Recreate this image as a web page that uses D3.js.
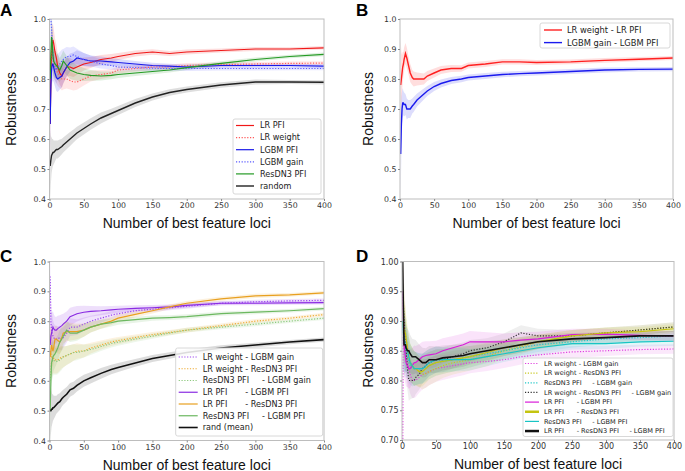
<!DOCTYPE html>
<html>
<head>
<meta charset="utf-8">
<script src="https://cdn.jsdelivr.net/npm/d3@7"></script>
<style>
  body { margin: 0; background: #fff; }
  svg { display: block; }
  text { font-family: "DejaVu Sans", sans-serif; }
</style>
</head>
<body>
<svg id="chart" width="685" height="471"></svg>
<script>
// ---------- DATA ----------
const xs = [1,2,3,4,5,6,8,10,12,15,18,20,25,30,35,40,50,60,75,90,100,125,150,175,200,250,300,350,400];
const xTicks = [0,50,100,150,200,250,300,350,400];
const yTicksABC = [0.4,0.5,0.6,0.7,0.8,0.9,1.0];
const yTicksD = [0.70,0.75,0.80,0.85,0.90,0.95,1.00];

// Panel A
const namesA = ["LR PFI","LR weight","LGBM PFI","LGBM gain","ResDN3 PFI","random"];
const A_lrPfi   = [.65,.80,.88,.92,.93,.92,.89,.87,.84,.82,.81,.82,.84,.84,.835,.84,.85,.855,.865,.87,.875,.885,.89,.885,.89,.895,.90,.90,.904];
const A_lrW     = [.80,.86,.90,.89,.87,.85,.84,.83,.82,.81,.80,.80,.80,.795,.79,.79,.80,.81,.815,.82,.83,.835,.84,.84,.845,.848,.85,.852,.853];
const A_lgbmPfi = [.65,.78,.83,.85,.85,.84,.82,.805,.80,.805,.81,.82,.84,.855,.86,.87,.865,.86,.86,.857,.855,.85,.845,.843,.84,.845,.845,.845,.843];
const A_lgbmG   = [1.0,1.0,.97,.92,.88,.86,.84,.83,.84,.85,.86,.865,.875,.875,.88,.875,.865,.86,.85,.845,.84,.838,.836,.835,.835,.835,.835,.835,.835];
const A_res     = [.80,.88,.94,.92,.88,.86,.85,.845,.84,.83,.845,.86,.845,.83,.825,.82,.815,.812,.81,.812,.815,.82,.825,.83,.838,.852,.865,.875,.882];
const A_rand    = [.51,.53,.545,.55,.555,.555,.56,.565,.565,.57,.575,.58,.59,.60,.61,.62,.635,.65,.67,.685,.695,.72,.74,.755,.765,.78,.79,.79,.789];
const bandModel = [.10,.08,.07,.06,.055,.05,.045,.045,.043,.04,.038,.035,.032,.03,.028,.026,.022,.018,.015,.013,.012,.01,.009,.008,.008,.007,.007,.006,.006];
const bandRand  = [.12,.08,.06,.05,.045,.04,.035,.03,.03,.028,.026,.025,.024,.023,.022,.021,.02,.019,.018,.016,.015,.013,.012,.011,.01,.009,.008,.007,.007];

// Panel B
const namesB = ["LR weight - LR PFI","LGBM gain - LGBM PFI"];
const B_lr   = [.78,.80,.82,.84,.85,.865,.885,.87,.85,.82,.805,.80,.80,.80,.80,.81,.82,.83,.835,.835,.845,.85,.857,.857,.855,.857,.862,.866,.87];
const B_lgbm = [.55,.65,.70,.72,.72,.715,.715,.70,.70,.70,.71,.715,.73,.74,.75,.76,.775,.785,.795,.80,.805,.81,.815,.818,.82,.825,.83,.832,.833];
const bandB  = [.15,.09,.06,.05,.04,.04,.035,.035,.03,.03,.025,.025,.022,.02,.018,.017,.015,.013,.012,.011,.01,.01,.009,.009,.008,.008,.008,.007,.007];

// Panel C
const namesC = ["LR weight - LGBM gain","LR weight - ResDN3 PFI","ResDN3 PFI     - LGBM gain","LR PFI       - LGBM PFI","LR PFI       - ResDN3 PFI","ResDN3 PFI     - LGBM PFI","rand (mean)"];
const C_wG   = [.95,.80,.77,.76,.75,.745,.74,.74,.74,.745,.74,.745,.76,.78,.78,.78,.79,.80,.81,.82,.825,.835,.84,.845,.85,.86,.865,.868,.87];
const C_wR   = [.70,.69,.68,.68,.68,.675,.67,.67,.67,.675,.68,.68,.685,.69,.695,.70,.70,.71,.72,.73,.735,.745,.755,.762,.77,.785,.80,.81,.822];
const C_rG   = [.60,.64,.66,.665,.67,.67,.665,.665,.665,.67,.675,.68,.685,.69,.695,.695,.70,.705,.715,.725,.73,.74,.75,.76,.77,.78,.79,.80,.81];
const C_pL   = [.72,.75,.76,.77,.78,.775,.77,.77,.775,.78,.785,.79,.80,.815,.82,.825,.83,.833,.835,.838,.84,.843,.845,.848,.853,.86,.86,.861,.862];
const C_pR   = [.68,.70,.72,.71,.70,.71,.74,.74,.735,.73,.745,.76,.765,.765,.765,.765,.77,.78,.79,.80,.81,.823,.835,.848,.86,.875,.885,.888,.895];
const C_rL   = [.50,.60,.66,.67,.68,.685,.69,.70,.71,.73,.74,.75,.77,.76,.76,.76,.77,.78,.79,.795,.80,.805,.81,.812,.815,.825,.83,.835,.842];
const C_rand = [.50,.50,.505,.505,.51,.51,.515,.52,.525,.53,.54,.545,.555,.57,.575,.585,.60,.61,.625,.638,.645,.66,.675,.685,.695,.71,.72,.73,.738];

// Panel D
const namesD = ["LR weight - LGBM gain","LR weight - ResDN3 PFI","ResDN3 PFI     - LGBM gain","LR weight - ResDN3 PFI     - LGBM gain","LR PFI      - LGBM PFI","LR PFI      - ResDN3 PFI","ResDN3 PFI     - LGBM PFI","LR PFI      - ResDN3 PFI     - LGBM PFI"];
const D_wG  = [.65,.93,.89,.87,.86,.85,.835,.82,.81,.80,.80,.80,.805,.81,.812,.815,.82,.822,.825,.828,.83,.832,.835,.84,.843,.848,.85,.852,.853];
const D_wR  = [.95,.93,.91,.895,.88,.87,.855,.84,.83,.825,.82,.82,.815,.81,.812,.815,.82,.825,.83,.833,.835,.84,.85,.857,.865,.875,.88,.885,.89];
const D_rG  = [.90,.88,.87,.86,.85,.845,.84,.83,.825,.82,.82,.82,.82,.82,.822,.825,.83,.832,.835,.838,.84,.845,.85,.855,.86,.865,.87,.872,.875];
const D_wRG = [.95,.92,.90,.88,.86,.85,.82,.80,.80,.80,.80,.805,.81,.82,.825,.83,.835,.835,.84,.845,.85,.855,.865,.88,.875,.875,.88,.885,.89];
const D_pL  = [.95,.90,.86,.85,.84,.83,.825,.82,.82,.825,.83,.83,.835,.84,.842,.843,.845,.85,.855,.86,.865,.865,.865,.868,.87,.877,.878,.876,.875];
const D_pR  = [.90,.89,.885,.88,.88,.87,.855,.84,.83,.825,.82,.82,.815,.815,.82,.825,.83,.832,.835,.838,.84,.847,.855,.86,.865,.875,.88,.882,.887];
const D_rL  = [.90,.88,.87,.865,.86,.855,.85,.84,.83,.825,.82,.82,.82,.82,.825,.83,.835,.835,.835,.835,.835,.84,.845,.85,.855,.862,.862,.865,.866];
const D_all = [1.0,.92,.86,.86,.86,.855,.85,.85,.845,.84,.84,.84,.835,.83,.83,.835,.835,.838,.84,.842,.845,.85,.855,.86,.865,.87,.872,.875,.875];
const bandD = [.08,.065,.055,.05,.045,.04,.036,.034,.032,.03,.029,.028,.026,.025,.024,.023,.022,.021,.02,.019,.018,.016,.014,.013,.012,.01,.009,.008,.008];

// ---------- DRAW ----------
const svg = d3.select("#chart");
const DOT = "1.2,1.6";

function drawPanel(cfg) {
  const g = svg.append("g");
  const x = d3.scaleLinear().domain([0, 400]).range([cfg.left, cfg.right]);
  const y = d3.scaleLinear().domain(cfg.yDomain).range([cfg.bottom, cfg.top]);
  const clipId = "clip" + cfg.letter;
  svg.append("clipPath").attr("id", clipId).append("rect")
    .attr("x", cfg.left).attr("y", cfg.top)
    .attr("width", cfg.right - cfg.left).attr("height", cfg.bottom - cfg.top);
  const plot = g.append("g").attr("clip-path", `url(#${clipId})`);

  const area = d3.area().x((d, i) => x(xs[i])).y0(d => y(d[0] - d[1])).y1(d => y(d[0] + d[1]));
  const line = d3.line().x((d, i) => x(xs[i])).y(d => y(d));

  cfg.series.forEach(s => {
    plot.append("path").datum(s.values.map((v, i) => [v, s.band[i]]))
      .attr("d", area).attr("fill", s.color).attr("fill-opacity", s.bandOpacity || 0.15);
  });
  cfg.series.forEach(s => {
    plot.append("path").datum(s.values).attr("d", line)
      .attr("fill", "none").attr("stroke", s.color).attr("stroke-width", s.width || 1.2)
      .attr("stroke-opacity", s.opacity || 1)
      .attr("stroke-dasharray", s.dash ? DOT : null);
  });

  // frame
  g.append("rect").attr("x", cfg.left).attr("y", cfg.top)
    .attr("width", cfg.right - cfg.left).attr("height", cfg.bottom - cfg.top)
    .attr("fill", "none").attr("stroke", "#bdbdbd").attr("stroke-width", 1);

  const xAxis = g.append("g").attr("transform", `translate(0,${cfg.bottom})`)
    .call(d3.axisBottom(x).tickValues(xTicks).tickSize(2).tickPadding(1.5).tickFormat(d3.format("d")));
  const yAxis = g.append("g").attr("transform", `translate(${cfg.left},0)`)
    .call(d3.axisLeft(y).tickValues(cfg.yTicks).tickSize(2).tickPadding(1.5).tickFormat(d3.format(cfg.yFmt)));
  [xAxis, yAxis].forEach(a => {
    a.select(".domain").remove();
    a.selectAll("line").attr("stroke", "#888");
    a.selectAll("text").attr("fill", "#333").style("font-size", cfg.tickFont + "px")
      .style("font-family", "'DejaVu Sans', sans-serif");
  });

  // axis titles
  g.append("text").attr("x", (cfg.left + cfg.right) / 2).attr("y", cfg.bottom + 29)
    .attr("text-anchor", "middle").style("font-family", "'Liberation Sans', Arial, sans-serif")
    .style("font-size", "14px").attr("fill", "#111").text("Number of best feature loci");
  g.append("text").attr("transform", `translate(${cfg.ylabX},${(cfg.top + cfg.bottom) / 2}) rotate(-90)`)
    .attr("text-anchor", "middle").style("font-family", "'Liberation Sans', Arial, sans-serif")
    .style("font-size", "14px").attr("fill", "#111").text("Robustness");
  // panel letter
  g.append("text").attr("x", cfg.letterX).attr("y", cfg.letterY)
    .style("font-family", "'Liberation Sans', Arial, sans-serif").style("font-weight", "bold")
    .style("font-size", "17px").attr("fill", "#000").text(cfg.letter);

  // legend
  const L = cfg.legend;
  const lg = g.append("g");
  lg.append("rect").attr("x", L.x).attr("y", L.y).attr("width", L.w).attr("height", L.h)
    .attr("rx", 2).attr("fill", "#fff").attr("fill-opacity", 0.85).attr("stroke", "#d8d8d8");
  cfg.series.forEach((s, i) => {
    const ry = L.y + L.first + i * L.row;
    lg.append("line").attr("x1", L.x + L.pad).attr("x2", L.x + L.pad + L.sample)
      .attr("y1", ry).attr("y2", ry).attr("stroke", s.color)
      .attr("stroke-width", s.legendWidth || s.width || 1.2).attr("stroke-opacity", s.opacity || 1)
      .attr("stroke-dasharray", s.dash ? DOT : null);
    lg.append("text").attr("x", L.x + L.pad + L.sample + L.gap).attr("y", ry)
      .attr("dy", "0.35em").style("font-size", L.font + "px").style("white-space", "pre")
      .attr("fill", "#222").text(s.name);
  });
}

drawPanel({
  letter: "A", letterX: 0, letterY: 16,
  left: 49.5, right: 324, top: 19, bottom: 199, ylabX: 16,
  yDomain: [0.4, 1.0], yTicks: yTicksABC, yFmt: ".1f", tickFont: 7.8,
  series: [
    {name: namesA[0], values: A_lrPfi, band: bandModel, color: "#f01818"},
    {name: namesA[1], values: A_lrW, band: bandModel, color: "#ff5a5a", dash: true},
    {name: namesA[2], values: A_lgbmPfi, band: bandModel, color: "#1818e8"},
    {name: namesA[3], values: A_lgbmG, band: bandModel, color: "#5a5aff", dash: true},
    {name: namesA[4], values: A_res, band: bandModel, color: "#259a25"},
    {name: namesA[5], values: A_rand, band: bandRand, color: "#222", width: 1.4}
  ],
  legend: {x: 233, y: 119, w: 88, h: 75, first: 6.5, row: 12.1, pad: 3, sample: 18, gap: 6, font: 8.1}
});

drawPanel({
  letter: "B", letterX: 356, letterY: 16,
  left: 400, right: 673, top: 19, bottom: 199, ylabX: 373,
  yDomain: [0.4, 1.0], yTicks: yTicksABC, yFmt: ".1f", tickFont: 7.8,
  series: [
    {name: namesB[0], values: B_lr, band: bandB, color: "#ff2020", width: 1.4},
    {name: namesB[1], values: B_lgbm, band: bandB, color: "#1a1aee", width: 1.4}
  ],
  legend: {x: 540, y: 23, w: 130, h: 25, first: 7, row: 12.6, pad: 4, sample: 18, gap: 5, font: 8.3}
});

drawPanel({
  letter: "C", letterX: 0, letterY: 262,
  left: 49.5, right: 324, top: 261.5, bottom: 440.5, ylabX: 16,
  yDomain: [0.4, 1.0], yTicks: yTicksABC, yFmt: ".1f", tickFont: 7.8,
  series: [
    {name: namesC[0], values: C_wG, band: bandModel, color: "#9b45ee", dash: true},
    {name: namesC[1], values: C_wR, band: bandModel, color: "#eeaa30", dash: true},
    {name: namesC[2], values: C_rG, band: bandModel, color: "#8cc87c", dash: true},
    {name: namesC[3], values: C_pL, band: bandModel, color: "#8a2be2"},
    {name: namesC[4], values: C_pR, band: bandModel, color: "#e8a020"},
    {name: namesC[5], values: C_rL, band: bandModel, color: "#6cb860"},
    {name: namesC[6], values: C_rand, band: bandRand, color: "#111", width: 1.6}
  ],
  legend: {x: 175.7, y: 348, w: 147, h: 88, first: 9, row: 11.75, pad: 3, sample: 19, gap: 5, font: 8.1}
});

drawPanel({
  letter: "D", letterX: 356, letterY: 262,
  left: 402, right: 674, top: 261.5, bottom: 440, ylabX: 373,
  yDomain: [0.70, 1.00], yTicks: yTicksD, yFmt: ".2f", tickFont: 8,
  series: [
    {name: namesD[0], values: D_wG, band: bandD, color: "#e040e0", dash: true, bandOpacity: 0.12},
    {name: namesD[1], values: D_wR, band: bandD, color: "#c8c820", dash: true, bandOpacity: 0.12},
    {name: namesD[2], values: D_rG, band: bandD, color: "#20c8c8", dash: true, bandOpacity: 0.12},
    {name: namesD[3], values: D_wRG, band: bandD, color: "#333", dash: true, bandOpacity: 0.08},
    {name: namesD[4], values: D_pL, band: bandD, color: "#d81cd8", bandOpacity: 0.12},
    {name: namesD[5], values: D_pR, band: bandD, color: "#c4c410", bandOpacity: 0.12, legendWidth: 2.5},
    {name: namesD[6], values: D_rL, band: bandD, color: "#18c4c4", bandOpacity: 0.12},
    {name: namesD[7], values: D_all, band: bandD, color: "#111", width: 1.6, bandOpacity: 0.08, legendWidth: 2.5}
  ],
  legend: {x: 523, y: 358, w: 150, h: 78.5, first: 5.5, row: 9.65, pad: 2, sample: 14, gap: 5, font: 6.6}
});
</script>
</body>
</html>
